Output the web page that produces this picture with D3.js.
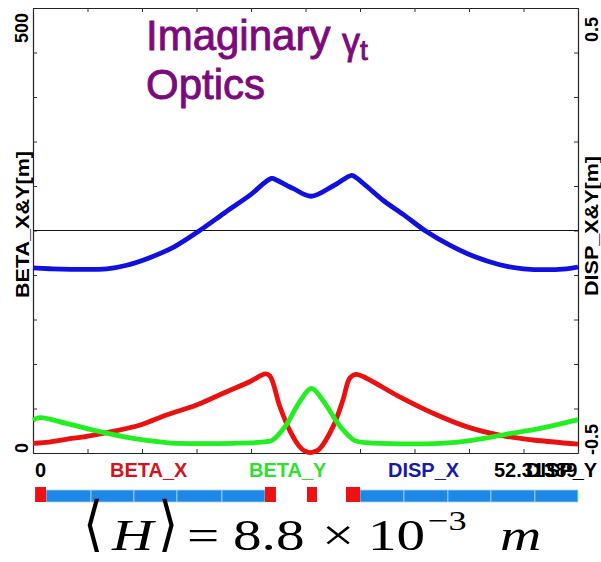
<!DOCTYPE html>
<html>
<head>
<meta charset="utf-8">
<script src="https://cdn.jsdelivr.net/npm/d3@7"></script>
<style>
  html, body { margin: 0; padding: 0; background: #fff; }
  svg { display: block; }
</style>
</head>
<body>
<svg id="chart" width="601" height="562"></svg>
<script>
// Lattice functions along the cell, s in metres
const sLength = 52.31389;

const betaX = [
  [0, 10.9], [1.0, 11.6], [3.2, 15.4], [5.3, 19], [7.55, 24], [10.3, 31.5],
  [12.8, 42.7], [15.7, 54], [18.6, 68.9], [20.8, 80], [22.3, 88.8], [22.75, 86.5],
  [23.7, 52], [24.7, 24], [25.6, 7], [26.1, 2], [26.6, 0.5], [27.1, 2], [27.5, 4.5],
  [28.8, 29.6], [29.75, 59.5], [30.4, 84], [31.0, 88.4], [32.0, 84], [35.2, 63],
  [38.4, 44.6], [41.6, 29.6], [44.8, 20], [48.0, 14.6], [52.31, 10]
];

const betaY = [
  [0, 37], [0.67, 39.7], [3.2, 33.3], [6.4, 24], [9.6, 16.5], [12.8, 11.6],
  [13.8, 10.9], [19.2, 10.9], [22.4, 12.7], [23.0, 14.6], [24.3, 31.5], [25.6, 57.7],
  [26.75, 72.7], [27.8, 59.5], [29.5, 29.6], [30.9, 13.8], [32.0, 11.6], [39.1, 10.9],
  [42.3, 14.6], [45.5, 21.3], [48.7, 27.7], [52.31, 37.5]
];

const dispX = [
  [0, -0.084], [1.6, -0.086], [7.1, -0.086], [9.0, -0.078], [11.2, -0.061],
  [13.6, -0.036], [16.0, 0.0], [18.4, 0.04], [20.8, 0.079], [22.9, 0.117],
  [23.4, 0.113], [25.0, 0.094], [26.7, 0.077], [28.8, 0.1], [30.6, 0.124],
  [31.0, 0.119], [32.0, 0.1], [33.6, 0.068], [35.6, 0.035], [37.8, -0.003],
  [40.0, -0.033], [42.3, -0.058], [44.8, -0.077], [47.1, -0.086], [51.2, -0.086],
  [52.31, -0.082]
];

// Magnet layout: quadrupoles (red) and bending magnets (blue), [start, end] in s
const quads = [[0.2, 1.25], [22.27, 23.32], [26.3, 27.26], [30.04, 31.39]];
const bends = [
  [1.25, 5.57], [5.57, 9.69], [9.69, 13.82], [13.82, 18.14], [18.14, 22.27],
  [31.39, 35.61], [35.61, 39.83], [39.83, 43.96], [43.96, 48.18], [48.18, 52.31]
];

const betaTicks = d3.range(0, 501, 50);
const dispTicks = d3.range(-5, 6).map(d => d / 10);
const sTicks = d3.range(0, 11).map(i => i * sLength / 10);

const legendItems = [
  { label: "BETA_X", color: "#d4141c", x: 110 },
  { label: "BETA_Y", color: "#2fe02f", x: 249 },
  { label: "DISP_X", color: "#1a1aa8", x: 388 },
  { label: "DISP_Y", color: "#000000", x: 526 }
];

const svg = d3.select("#chart");
const plotL = 33, plotR = 578, plotT = 8, plotB = 453;

const x = d3.scaleLinear().domain([0, sLength]).range([plotL, plotR]);
const yBeta = d3.scaleLinear().domain([0, 500]).range([plotB, plotT]);
const yDisp = d3.scaleLinear().domain([-0.5, 0.5]).range([plotB, plotT]);

// Frame and axes with inward ticks
const axisStyle = g => {
  g.selectAll("path.domain").attr("stroke", "#222").attr("stroke-width", 1.2);
  g.selectAll(".tick line").attr("stroke", "#333").attr("stroke-width", 1);
  g.selectAll(".tick text").remove();
};
svg.append("g").attr("transform", `translate(${plotL},0)`)
  .call(d3.axisLeft(yBeta).tickValues(betaTicks).tickSizeInner(-4).tickSizeOuter(0))
  .call(axisStyle);
svg.append("g").attr("transform", `translate(${plotR},0)`)
  .call(d3.axisRight(yDisp).tickValues(dispTicks).tickSizeInner(-4).tickSizeOuter(0))
  .call(axisStyle);
svg.append("g").attr("transform", `translate(0,${plotT})`)
  .call(d3.axisTop(x).tickValues(sTicks).tickSizeInner(-4).tickSizeOuter(0))
  .call(axisStyle);
svg.append("g").attr("transform", `translate(0,${plotB})`)
  .call(d3.axisBottom(x).tickValues(sTicks).tickSizeInner(-4).tickSizeOuter(0))
  .call(axisStyle);

// Dispersion zero line
svg.append("line")
  .attr("x1", plotL).attr("x2", plotR)
  .attr("y1", yDisp(0)).attr("y2", yDisp(0))
  .attr("stroke", "#111").attr("stroke-width", 1.2);

// Curves
const smooth = d3.curveCatmullRom.alpha(0.5);
const betaLine = d3.line().curve(smooth).x(d => x(d[0])).y(d => yBeta(d[1]));
const dispLine = d3.line().curve(smooth).x(d => x(d[0])).y(d => yDisp(d[1]));

svg.append("path").datum(dispX).attr("d", dispLine)
  .attr("fill", "none").attr("stroke", "#1010e0").attr("stroke-width", 4.8)
  .attr("stroke-linejoin", "round");
svg.append("path").datum(betaX).attr("d", betaLine)
  .attr("fill", "none").attr("stroke", "#ea1111").attr("stroke-width", 4.8)
  .attr("stroke-linejoin", "round");
svg.append("path").datum(betaY).attr("d", betaLine)
  .attr("fill", "none").attr("stroke", "#22ee22").attr("stroke-width", 4.8)
  .attr("stroke-linejoin", "round");

// Axis labels
const sans = "'Liberation Sans', Arial, sans-serif";
function vText(cx, cy, txt, size, len) {
  const t = svg.append("text")
    .attr("transform", `translate(${cx},${cy}) rotate(-90)`)
    .attr("font-family", sans).attr("font-weight", "bold")
    .attr("font-size", size).attr("fill", "#000")
    .text(txt);
  if (len) t.attr("textLength", len).attr("lengthAdjust", "spacingAndGlyphs");
  return t;
}
vText(28, 43, "500", 18);
vText(28, 453, "0", 18);
vText(29, 298, "BETA_X&Y[m]", 19, 147);
vText(598, 42, "0.5", 18);
vText(598, 455, "-0.5", 18);
vText(598, 296, "DISP_X&Y[m]", 19, 140);

// Bottom s labels and curve legend
svg.append("text").attr("x", 35).attr("y", 477)
  .attr("font-family", sans).attr("font-weight", "bold").attr("font-size", 20)
  .text("0");
svg.append("text").attr("x", 494).attr("y", 477)
  .attr("font-family", sans).attr("font-weight", "bold").attr("font-size", 20)
  .text(sLength.toFixed(5).replace(/0+$/, ""));
svg.selectAll("text.legend").data(legendItems).enter().append("text")
  .attr("class", "legend")
  .attr("x", d => d.x).attr("y", 477)
  .attr("font-family", sans).attr("font-weight", "bold").attr("font-size", 20)
  .attr("fill", d => d.color)
  .text(d => d.label);

// Magnet layout strip
svg.selectAll("rect.bend").data(bends).enter().append("rect")
  .attr("class", "bend")
  .attr("x", d => x(d[0])).attr("width", d => x(d[1]) - x(d[0]))
  .attr("y", 490).attr("height", 12)
  .attr("fill", "#1e88e8").attr("stroke", "#a8d4f8").attr("stroke-width", 0.8);
svg.selectAll("rect.quad").data(quads).enter().append("rect")
  .attr("class", "quad")
  .attr("x", d => x(d[0])).attr("width", d => x(d[1]) - x(d[0]))
  .attr("y", 487).attr("height", 15)
  .attr("fill", "#ee1111");

// Title
const purple = "#7d0a7d";
const title = svg.append("text").attr("x", 146).attr("y", 50)
  .attr("font-family", sans).attr("font-size", 42)
  .attr("fill", purple).attr("stroke", purple).attr("stroke-width", 0.9);
title.append("tspan").text("Imaginary ");
title.append("tspan").attr("font-size", 36).attr("dy", 4).text("γ");
title.append("tspan").attr("font-size", 28).attr("dy", 6).text("t");
svg.append("text").attr("x", 146).attr("y", 99)
  .attr("font-family", sans).attr("font-size", 42)
  .attr("fill", purple).attr("stroke", purple).attr("stroke-width", 0.9)
  .text("Optics");

// Average curly-H formula
const serif = "'Liberation Serif', 'Times New Roman', serif";
function fText(px, py, txt, opts = {}) {
  return svg.append("text")
    .attr("transform", `translate(${px},${py}) scale(${opts.sx || 1.3},${opts.sy || 1})`)
    .attr("font-family", opts.family || serif)
    .attr("font-size", opts.size || 44)
    .attr("font-style", opts.italic ? "italic" : "normal")
    .attr("fill", "#000")
    .text(txt);
}
fText(83, 544, "⟨", { family: "'DejaVu Serif', serif", size: 52, sx: 1, sy: 1.15 });
fText(112, 550, "H", { italic: true });
fText(158, 544, "⟩", { family: "'DejaVu Serif', serif", size: 52, sx: 1, sy: 1.15 });
fText(187, 550, "=");
fText(233, 550, "8.8");
fText(322, 550, "×");
fText(368, 550, "10");
fText(428, 530, "−3", { size: 28 });
fText(500, 550, "m", { italic: true });
</script>
</body>
</html>
